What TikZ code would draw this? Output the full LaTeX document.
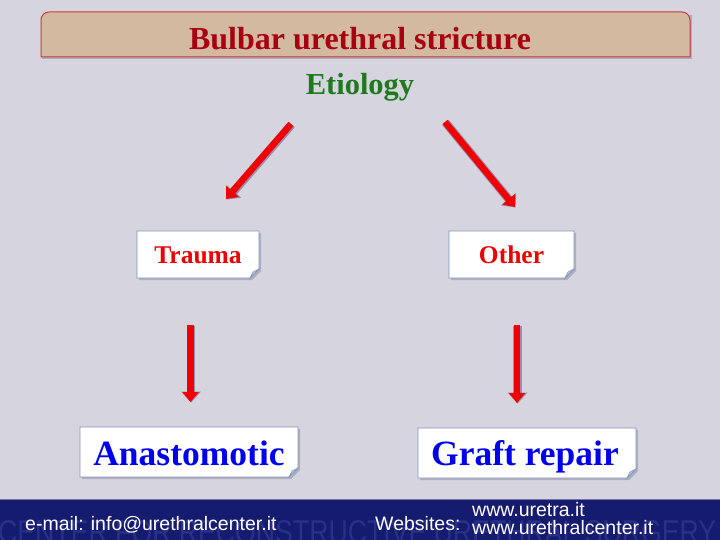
\documentclass[tikz,border=0pt]{standalone}
\usepackage{fontspec}
\setmainfont{Liberation Serif}
\newfontfamily\arialf{Liberation Sans}
\usetikzlibrary{arrows.meta}
\definecolor{bgc}{HTML}{D6D4DF}
\definecolor{titlefill}{HTML}{D3B9A0}
\definecolor{titleline}{HTML}{C83A3E}
\definecolor{titletext}{HTML}{A80010}
\definecolor{etio}{HTML}{1E7A1E}
\definecolor{foot}{HTML}{151B6E}
\definecolor{wmark}{HTML}{283088}
\definecolor{boxline}{HTML}{7F95C0}
\definecolor{foldc}{HTML}{B9C6E0}
\definecolor{shadowc}{HTML}{B0AEBE}
\definecolor{arrowred}{HTML}{F00000}
\definecolor{arrowsh}{HTML}{4B3C78}
\definecolor{redtext}{HTML}{EE0000}
\definecolor{bluetext}{HTML}{0000EE}
\newcommand\foldshape[4]{%
  \fill[shadowc] (#1+2,#2+2) -- (#3+2,#2+2) -- (#3+2,#4+2-9) -- (#3+2-9,#4+2) -- (#1+2,#4+2) -- cycle;
  \filldraw[fill=white,draw=boxline,line width=0.8pt] (#1,#2) -- (#3,#2) -- (#3,#4-9) -- (#3-9,#4) -- (#1,#4) -- cycle;
  \filldraw[fill=foldc,draw=boxline,line width=0.5pt] (#3,#4-9) -- (#3-9,#4) -- (#3-6,#4-6) -- cycle;
}
\tikzset{
  bigarrow/.style={line width=6.5pt, draw=arrowred, -{Triangle[length=10pt,width=16pt]}},
  arrowshadow/.style={line width=8.5pt, draw=arrowsh, opacity=0.45, -{Triangle[length=11pt,width=19pt]}},
  boxtext/.style={anchor=base, font=\bfseries\fontsize{25.5}{28}\selectfont, text=redtext, inner sep=0pt},
  bigtext/.style={anchor=base, font=\bfseries\fontsize{35.5}{38}\selectfont, text=bluetext, inner sep=0pt},
  foottext/.style={anchor=base west, font=\arialf\fontsize{19.5}{21}\selectfont, text=white, inner sep=0pt}
}
\begin{document}
\begin{tikzpicture}[x=1pt,y=-1pt]
\clip (0,0) rectangle (720,540);
\fill[bgc] (0,0) rectangle (720,540);
% title box
\fill[shadowc] (42,15) rectangle (692,59);
\filldraw[fill=titlefill,draw=titleline,line width=1pt]
  (41,57) [rounded corners=8pt] -- (41,12) -- (690,12) [sharp corners] -- (690,57) -- cycle;
\node[anchor=base, font=\bfseries\fontsize{32}{34}\selectfont, text=titletext, inner sep=0pt] (title) at (360,50) {Bulbar urethral stricture};
\node[anchor=base, font=\bfseries\fontsize{30.5}{33}\selectfont, text=etio, inner sep=0pt] (etiology) at (360,95) {Etiology};
% boxes
\foldshape{137}{231}{259}{278}
\foldshape{449}{231}{574}{278}
\foldshape{80}{427}{298}{477}
\foldshape{418}{428}{636}{478}
\node[boxtext] (trauma) at (198,263) {Trauma};
\node[boxtext] (other) at (511.5,263) {Other};
\node[bigtext] (anast) at (189,465) {Anastomotic};
\node[bigtext] (graft) at (525,465) {Graft repair};
% arrows
\coordinate (a1s) at (291,124); \coordinate (a1e) at (226,199);
\coordinate (a2s) at (445,122); \coordinate (a2e) at (515,207);
\coordinate (a3s) at (190.5,325); \coordinate (a3e) at (190.5,402);
\coordinate (a4s) at (517,325); \coordinate (a4e) at (517,403);
\foreach \s/\e in {a1s/a1e,a2s/a2e,a3s/a3e,a4s/a4e}{
  \draw[arrowshadow] ([xshift=0.6pt,yshift=-0.6pt]\s) -- ([xshift=0.6pt,yshift=-0.6pt]\e);
  \draw[bigarrow] (\s) -- (\e);
}
% footer
\fill[foot] (0,499) rectangle (720,540);
\draw[color=foot!60!white, line width=1pt] (0,499) -- (720,499);
\node[anchor=base west, inner sep=0pt, text=wmark, font=\arialf] (wm) at (-2,543)
  {\resizebox{718pt}{23pt}{CENTER FOR RECONSTRUCTIVE URETHRAL SURGERY}};
\node[foottext] (email) at (25,530) {e-mail: info@urethralcenter.it};
\node[foottext] (webs) at (375,530) {Websites:};
\node[foottext] (web1) at (472,516) {www.uretra.it};
\node[foottext] (web2) at (472,534) {www.urethralcenter.it};
\end{tikzpicture}
\end{document}
